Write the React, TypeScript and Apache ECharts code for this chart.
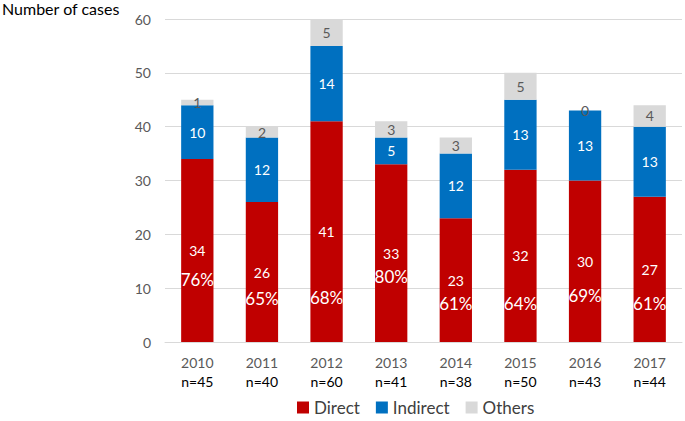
import React, { useEffect, useRef } from "react";
import * as echarts from "echarts";

const years = ["2010", "2011", "2012", "2013", "2014", "2015", "2016", "2017"];
const totals = [45, 40, 60, 41, 38, 50, 43, 44];
const direct = [34, 26, 41, 33, 23, 32, 30, 27];
const indirect = [10, 12, 14, 5, 12, 13, 13, 13];
const others = [1, 2, 5, 3, 3, 5, 0, 4];
const pctLabels = ["76%", "65%", "68%", "80%", "61%", "64%", "69%", "61%"];
const pctLabelPos = [11.7, 8.0, 8.2, 12.1, 7.1, 7.2, 8.7, 7.1];

const FONT = "Lato, 'Open Sans', sans-serif";

export default function App() {
  const ref = useRef<HTMLDivElement>(null);
  useEffect(() => {
    if (!ref.current) return;
    const chart = echarts.init(ref.current, undefined, { renderer: "svg" });
    chart.setOption({
      animation: false,
      textStyle: { fontFamily: FONT },
      title: {
        text: "Number of cases",
        left: 2,
        top: 0,
        padding: 0,
        textStyle: { fontFamily: FONT, fontSize: 16, fontWeight: "normal", color: "#000" },
      },
      grid: { left: 165, right: 3, top: 19, bottom: 79 },
      legend: {
        data: ["Direct", "Indirect", "Others"],
        bottom: 0,
        left: 292,
        itemWidth: 12,
        itemHeight: 12,
        itemGap: 16,
        icon: "rect",
        textStyle: { fontFamily: FONT, fontSize: 17, color: "#404040" },
      },
      xAxis: {
        type: "category",
        data: years,
        axisTick: { show: false },
        axisLine: { lineStyle: { color: "#D9D9D9" } },
        axisLabel: {
          margin: 11,
          formatter: (v: string, i: number) => `{y|${v}}\n{n|n=${totals[i]}}`,
          rich: {
            y: { fontFamily: FONT, fontSize: 14, color: "#595959", lineHeight: 19 },
            n: { fontFamily: FONT, fontSize: 14, color: "#000", lineHeight: 19 },
          },
        },
      },
      yAxis: {
        type: "value",
        min: 0,
        max: 60,
        interval: 10,
        axisLine: { show: false },
        axisTick: { show: false },
        splitLine: { lineStyle: { color: "#D9D9D9" } },
        axisLabel: { fontFamily: FONT, fontSize: 14, color: "#595959", margin: 14 },
      },
      series: [
        {
          name: "Direct",
          type: "bar",
          stack: "a",
          data: direct,
          barWidth: "50%",
          itemStyle: { color: "#C00000" },
          label: { show: true, position: "inside", color: "#fff", fontSize: 14, fontFamily: FONT },
        },
        {
          name: "Indirect",
          type: "bar",
          stack: "a",
          data: indirect,
          itemStyle: { color: "#0070C0" },
          label: { show: true, position: "inside", color: "#fff", fontSize: 14, fontFamily: FONT },
        },
        {
          name: "Others",
          type: "bar",
          stack: "a",
          data: others,
          itemStyle: { color: "#D9D9D9" },
          label: { show: true, position: "inside", color: "#595959", fontSize: 14, fontFamily: FONT },
        },
        {
          name: "pct",
          type: "scatter",
          data: pctLabelPos,
          symbolSize: 0,
          silent: true,
          itemStyle: { opacity: 1 },
          label: {
            show: true,
            position: "inside",
            formatter: (p: any) => pctLabels[p.dataIndex],
            color: "#fff",
            opacity: 1,
            fontSize: 17,
            fontFamily: FONT,
          },
        },
      ],
    });
    return () => chart.dispose();
  }, []);
  return (
    <div
      ref={ref}
      style={{ position: "absolute", left: 0, top: 0, width: 685, height: 421 }}
    />
  );
}
